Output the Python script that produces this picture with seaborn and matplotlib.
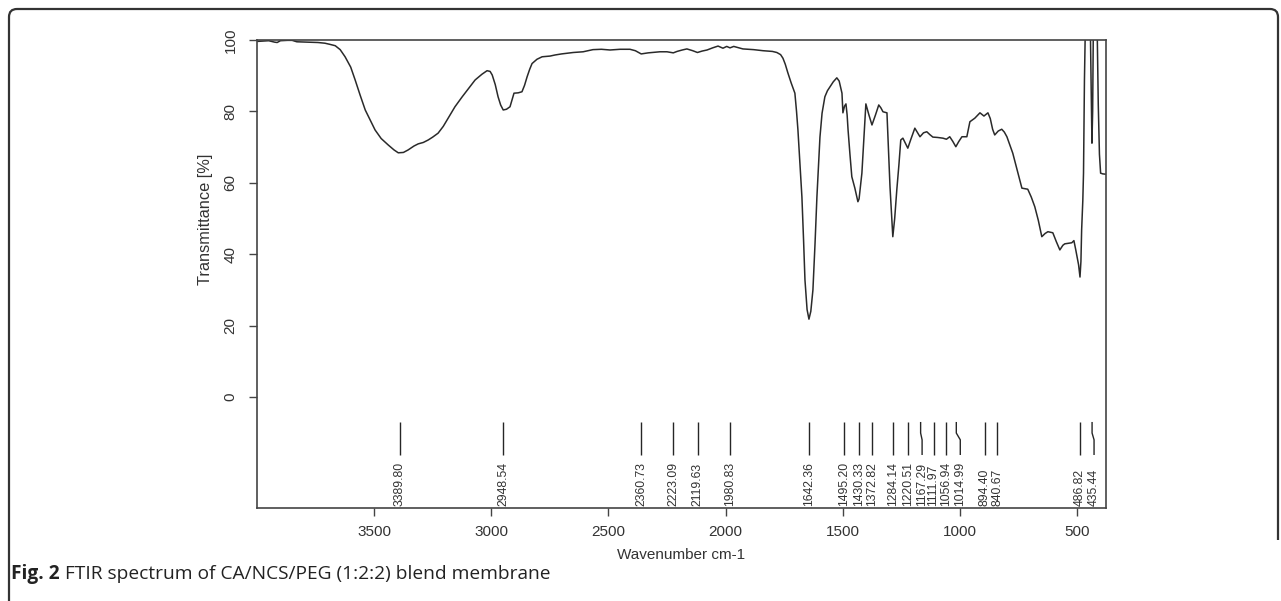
import numpy as np
import pandas as pd
import matplotlib
matplotlib.use("Agg")
import matplotlib.pyplot as plt
from matplotlib.path import Path
from matplotlib.patches import PathPatch
import seaborn as sns

# ---------------- data ----------------
wavenumber = [
    4000, 3975, 3950, 3925, 3914, 3900, 3870, 3850, 3830, 3780, 3740, 3710, 3690,
    3666, 3645, 3624, 3600, 3581, 3560, 3538, 3515, 3496, 3470, 3440, 3415, 3397,
    3375, 3355, 3330, 3312, 3290, 3269, 3250, 3227, 3205, 3184, 3155, 3124, 3095,
    3069, 3040, 3018, 3005, 2996, 2983, 2971, 2960, 2949, 2935, 2920, 2910, 2903,
    2885, 2869, 2858, 2847, 2836, 2826, 2805, 2783, 2749, 2728, 2700, 2650, 2608,
    2566, 2530, 2493, 2450, 2408, 2385, 2360, 2330, 2280, 2250, 2223, 2207, 2185,
    2165, 2140, 2120, 2100, 2079, 2055, 2032, 2011, 1995, 1981, 1965, 1926, 1880,
    1840, 1800, 1781, 1765, 1755, 1745, 1734, 1720, 1704, 1697, 1691, 1682, 1674,
    1667, 1661, 1652, 1644, 1636, 1627, 1618, 1610, 1603, 1597, 1588, 1576, 1565,
    1554, 1540, 1525, 1515, 1508, 1503, 1499, 1492, 1486, 1481, 1477, 1469, 1461,
    1448, 1435, 1430, 1418, 1410, 1401, 1388, 1375, 1360, 1346, 1337, 1328, 1311,
    1305, 1298, 1286, 1278, 1269, 1260, 1252, 1243, 1232, 1222, 1210, 1192, 1180,
    1170, 1155, 1141, 1128, 1115, 1095, 1072, 1057, 1043, 1030, 1017, 1005, 991,
    970, 957, 936, 914, 897, 880, 870, 860, 851, 836, 821, 810, 799, 774, 755,
    735, 710, 695, 680, 665, 650, 636, 624, 603, 588, 573, 560, 552, 522, 513,
    505, 493, 487, 483, 480, 475, 472, 468, 465, 462, 452, 443, 440, 436, 433,
    430, 427, 417, 413, 409, 404, 399, 390, 376,
]
transmittance = [
    99.6, 99.7, 99.8, 99.4, 99.3, 99.8, 99.9, 99.9, 99.5, 99.4, 99.3, 99.1, 98.8,
    98.4, 97.3, 95.3, 92.4, 88.8, 84.6, 80.4, 77.3, 74.8, 72.4, 70.6, 69.2, 68.4,
    68.5, 69.2, 70.3, 70.9, 71.3, 72.0, 72.8, 73.9, 75.8, 78.1, 81.3, 84.1, 86.6,
    88.8, 90.4, 91.4, 91.2, 90.2, 87.5, 84.1, 81.8, 80.4, 80.6, 81.3, 83.5, 85.1,
    85.2, 85.5, 87.3, 89.7, 91.8, 93.4, 94.6, 95.3, 95.5, 95.8, 96.1, 96.5, 96.7,
    97.3, 97.4, 97.2, 97.4, 97.4, 97.0, 96.1, 96.4, 96.7, 96.7, 96.4, 96.8, 97.2,
    97.5, 97.0, 96.5, 96.9, 97.2, 97.8, 98.3, 97.7, 98.2, 97.8, 98.2, 97.5, 97.3,
    97.0, 96.8, 96.5, 95.9, 94.9, 93.2, 90.8, 88.0, 85.1, 80.0, 74.8, 65.0, 56.0,
    44.0, 32.8, 24.5, 21.8, 24.0, 30.0, 43.0, 56.0, 65.0, 72.8, 79.5, 84.1, 85.8,
    86.9, 88.3, 89.4, 88.5, 86.5, 85.1, 79.6, 81.5, 82.1, 79.0, 74.8, 68.0, 61.7,
    58.5, 54.7, 55.5, 62.7, 72.0, 82.1, 79.0, 76.2, 79.0, 81.8, 81.0, 79.9, 79.6,
    70.0, 58.9, 44.9, 50.0, 58.0, 65.0, 72.0, 72.5, 71.0, 69.7, 72.0, 75.3, 74.0,
    72.9, 74.0, 74.3, 73.5, 72.8, 72.7, 72.5, 72.2, 72.9, 71.6, 70.1, 71.5, 72.9,
    72.9, 77.1, 78.1, 79.6, 78.7, 79.6, 78.0, 75.0, 73.4, 74.5, 75.0, 74.2, 72.9,
    68.3, 63.5, 58.5, 58.2, 56.0, 53.3, 49.5, 44.9, 45.8, 46.3, 46.0, 43.5, 41.2,
    42.5, 42.9, 43.2, 43.8, 41.2, 37.0, 33.6, 38.0, 46.8, 55.0, 62.7, 88.8, 100.5,
    105, 105, 104, 90, 71.1, 80, 104, 105, 105, 100, 82, 68, 62.7, 62.5, 62.4,
]

peak_labels = ["3389.80", "2948.54", "2360.73", "2223.09", "2119.63", "1980.83",
               "1642.36", "1495.20", "1430.33", "1372.82", "1284.14", "1220.51",
               "1167.29", "1111.97", "1056.94", "1014.99", "894.40", "840.67",
               "486.82", "435.44"]
peak_positions = [float(s) for s in peak_labels]
label_positions = [3389.80, 2948.54, 2360.73, 2223.09, 2119.63, 1980.83,
                   1642.36, 1495.20, 1430.33, 1372.82, 1284.14, 1220.51,
                   1161.0, 1111.97, 1056.94, 998.0, 894.40, 840.67,
                   486.82, 427.0]

x_ticks = [3500, 3000, 2500, 2000, 1500, 1000, 500]
y_ticks = [0, 20, 40, 60, 80, 100]

# ---------------- style ----------------
W, H = 1281, 601
sns.set_theme(style="white")
plt.rcParams["font.family"] = ["Liberation Sans", "DejaVu Sans"]
INK = "#333333"

fig = plt.figure(figsize=(W / 100, H / 100), dpi=100)
ax = fig.add_axes([257 / W, 1 - 508 / H, (1106 - 257) / W, (508 - 40) / H])

df = pd.DataFrame({"Wavenumber": wavenumber, "Transmittance": transmittance})
sns.lineplot(data=df, x="Wavenumber", y="Transmittance", ax=ax, color="#2a2a2a",
             linewidth=1.1, estimator=None, sort=False)

ax.set_xlim(4000, 376)
ax.set_ylim(-31.1, 100)
ax.set_xticks(x_ticks)
ax.set_yticks(y_ticks)
ax.set_xlabel("")
ax.set_ylabel("")

for sp in ax.spines.values():
    sp.set_visible(True)
    sp.set_color("#444444")
    sp.set_linewidth(1.2)

ax.tick_params(axis="both", which="major", direction="out", length=6, width=1.0,
               color="#444444", labelcolor=INK, labelsize=11, bottom=True, left=True)
ax.tick_params(axis="x", pad=6)
ax.tick_params(axis="y", pad=8)
plt.setp(ax.get_yticklabels(), rotation=90, va="center")

# peak marker lines and labels
y_top, y_b1, y_b2, y_bot = -7.0, -10.1, -12.0, -16.25
for lab, pk, lp in zip(peak_labels, peak_positions, label_positions):
    ax.plot([pk, pk, lp, lp], [y_top, y_b1, y_b2, y_bot], color="#262626",
            linewidth=1.0, solid_capstyle="butt")
    ax.text(lp, -30.4, lab, rotation=90, ha="center", va="bottom",
            fontsize=8.8, color=INK)

# axis labels
fig.text(681.5 / W, 1 - 555 / H, "Wavenumber cm-1", ha="center", va="center",
         fontsize=11, color=INK)
fig.text(205 / W, 1 - 219 / H, "Transmittance [%]", ha="center", va="center",
         rotation=90, fontsize=11.8, color=INK)

# caption
cap_font = ["Open Sans", "DejaVu Sans"]
renderer = fig.canvas.get_renderer()
t1 = fig.text(11 / W, 1 - 574 / H, "Fig. 2", ha="left", va="center",
              fontsize=13.8, fontweight="bold", color="#222222", family=cap_font)
bb = t1.get_window_extent(renderer=renderer)
fig.text((bb.x1 + 5) / W, 1 - 574 / H,
         "FTIR spectrum of CA/NCS/PEG (1:2:2) blend membrane",
         ha="left", va="center", fontsize=13.8, color="#222222", family=cap_font)

# rounded frame around the figure (left, top, right)
r = 8
verts = [(9, H + 2), (9, 9 + r), (9, 9), (9 + r, 9), (1278 - r, 9), (1278, 9),
         (1278, 9 + r), (1278, 540)]
codes = [Path.MOVETO, Path.LINETO, Path.CURVE3, Path.CURVE3, Path.LINETO,
         Path.CURVE3, Path.CURVE3, Path.LINETO]
verts_fig = [(vx / W, 1 - vy / H) for vx, vy in verts]
frame = PathPatch(Path(verts_fig, codes), transform=fig.transFigure, fill=False,
                  edgecolor="#333333", linewidth=1.6)
fig.patches.append(frame)

fig.savefig("out.png", dpi=100)
